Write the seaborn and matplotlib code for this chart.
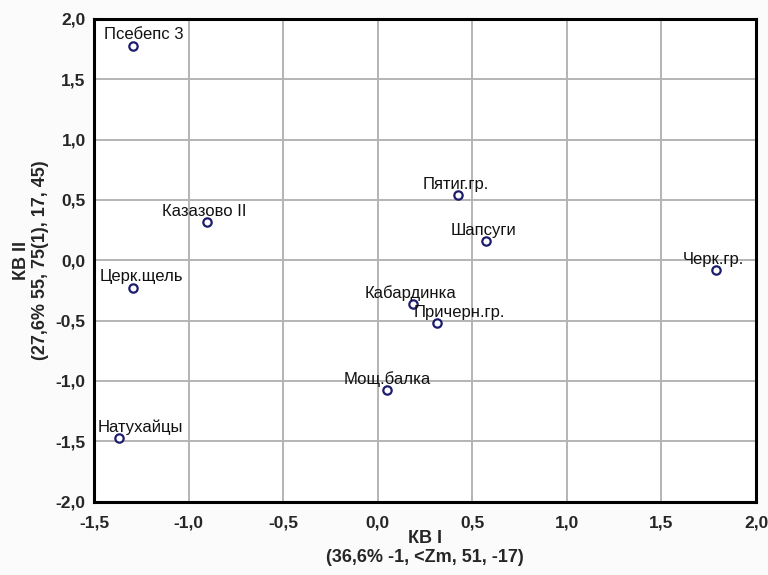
import numpy as np
import pandas as pd
import matplotlib
matplotlib.use('Agg')
import matplotlib.pyplot as plt
import seaborn as sns

# Datos: ordenación (KB I, KB II)
sitios = ['Псебепс 3', 'Казазово II', 'Церк.щель', 'Натухайцы', 'Мощ.балка',
          'Пятиг.гр.', 'Шапсуги', 'Черк.гр.', 'Кабардинка', 'Причерн.гр.']
kb1 = [-1.295, -0.904, -1.292, -1.366, 0.049, 0.426, 0.572, 1.791, 0.186, 0.315]
kb2 = [1.78, 0.318, -0.227, -1.475, -1.073, 0.539, 0.160, -0.083, -0.360, -0.523]

ticks = [-1.5, -1.0, -0.5, 0.0, 0.5, 1.0, 1.5, 2.0]
yticks = [-2.0, -1.5, -1.0, -0.5, 0.0, 0.5, 1.0, 1.5, 2.0]

df = pd.DataFrame({'sitio': sitios, 'kb1': kb1, 'kb2': kb2})

sns.set_style('white')
plt.rcParams['font.family'] = ['Liberation Sans', 'DejaVu Sans']

fig = plt.figure(figsize=(7.68, 5.75), dpi=100)
fig.patch.set_facecolor('#fbfbfb')
ax = fig.add_axes([0.1224, 0.1278, 0.8620, 0.8392])
ax.set_facecolor('white')

sns.scatterplot(data=df, x='kb1', y='kb2', ax=ax, marker='o', s=36,
                facecolor='white', edgecolor='#1c1c6e', linewidth=1.6, zorder=3)

# desplazamiento horizontal de cada etiqueta (px)
dx_px = [11, -2, 8, 21, 0, -3, -2, -3, -2, 22]
for i, fila in df.iterrows():
    ax.annotate(fila['sitio'], (fila['kb1'], fila['kb2']),
                xytext=(dx_px[i] * 0.72, 7.8), textcoords='offset points',
                ha='center', va='center', fontsize=12, color='#111111', zorder=4)

ax.set_xlim(-1.5, 2.0)
ax.set_ylim(-2.0, 2.0)
ax.set_xticks(ticks)
ax.set_yticks(yticks)
fmt = lambda v: f'{v:.1f}'.replace('.', ',')
ax.set_xticklabels([fmt(v) for v in ticks], fontweight='bold', fontsize=12.5)
ax.set_yticklabels([fmt(v) for v in yticks], fontweight='bold', fontsize=12.5)
ax.tick_params(axis='x', length=0, pad=10)
ax.tick_params(axis='y', length=0, pad=6)
ax.grid(True, color='#b4b4b4', linewidth=1.4)
ax.set_axisbelow(True)
for sp in ax.spines.values():
    sp.set_color('black')
    sp.set_linewidth(2.2)

ax.set_xlabel('КВ I\n(36,6% -1, <Zm, 51, -17)', fontweight='bold', fontsize=13,
              linespacing=1.15, labelpad=0)
ax.set_ylabel('КВ II\n(27,6% 55, 75(1), 17, 45)', fontweight='bold', fontsize=13,
              linespacing=1.1, labelpad=5)

fig.savefig('out.png', dpi=100, facecolor=fig.get_facecolor())
